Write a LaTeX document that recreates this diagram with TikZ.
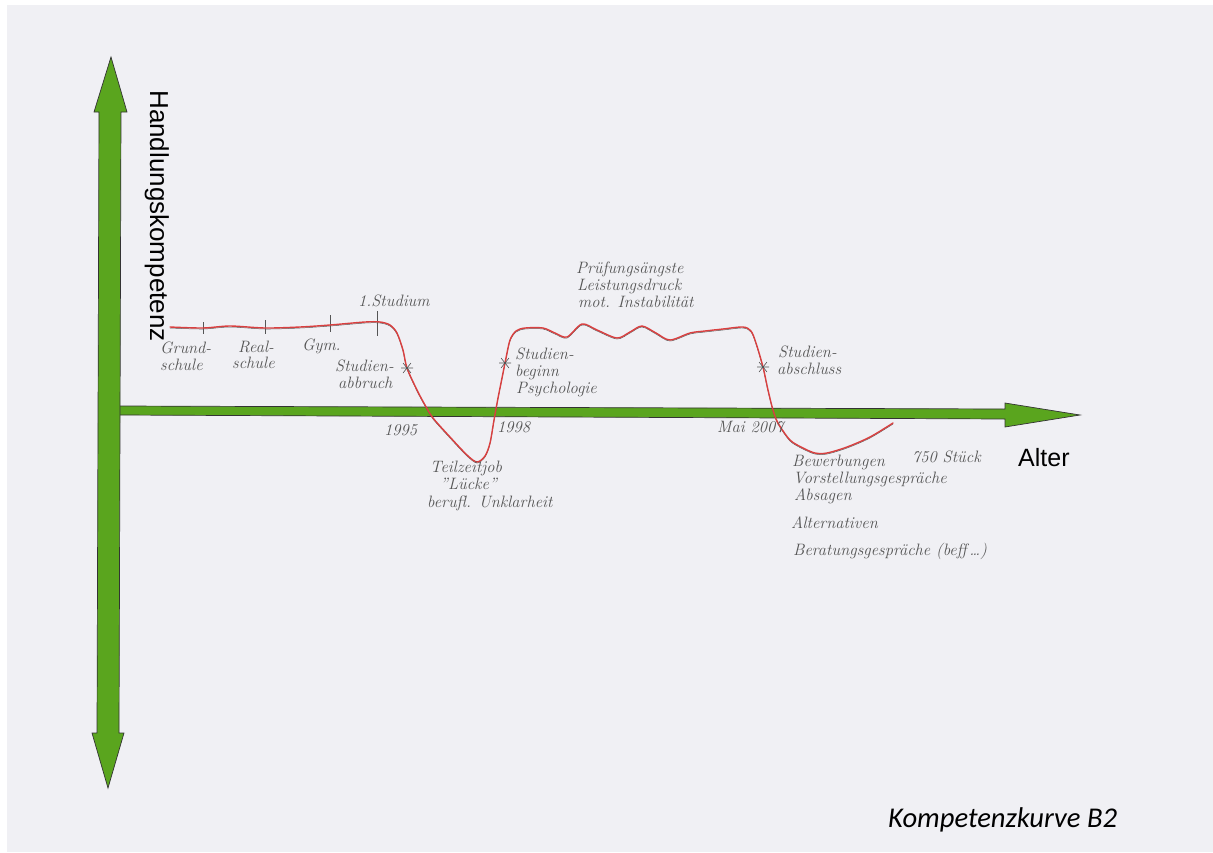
\documentclass[tikz,border=0pt]{standalone}
\usepackage{fontspec}
\setsansfont{Liberation Sans}
\newfontfamily\capfont{Carlito}
\definecolor{paper}{HTML}{F0F0F4}
\definecolor{axisgreen}{HTML}{5AA51E}
\definecolor{curvered}{HTML}{D94040}
\definecolor{pencil}{HTML}{555555}
\begin{document}
\begin{tikzpicture}[x=1pt,y=-1pt,
  axis/.style={fill=axisgreen,draw=black!80,line width=0.7pt,line join=miter},
  hand/.style={anchor=base west,inner sep=0pt,text=pencil,font=\fontsize{16.5}{18}\selectfont\itshape},
  penline/.style={draw=pencil,line width=0.6pt},
  curve/.style={draw=curvered,line width=1.4pt,line cap=round,line join=round}]
\useasboundingbox (0,0) rectangle (1213,852);
\fill[white] (0,0) rectangle (1213,852);
\fill[paper] (7,5) rectangle (1213,852);
% horizontal axis
\path[axis] (119,406) -- (1005,409) -- (1005,403) -- (1080,415) -- (1005,427) -- (1005,419) -- (119,415) -- cycle;
% vertical axis
\path[axis] (111,57) -- (127,112) -- (121,112) -- (119,733) -- (124,733) -- (108,788) -- (92,733) -- (97,733) -- (99,112) -- (94,112) -- cycle;
% axis labels
\node[anchor=base,inner sep=0pt,rotate=-90,font=\sffamily\fontsize{26}{30}\selectfont] (ylab) at (150,216) {Handlungskompetenz};
\node[anchor=base west,inner sep=0pt,font=\sffamily\fontsize{25}{30}\selectfont] (xlab) at (1018,466) {Alter};
\node[anchor=base west,inner sep=0pt,font=\capfont\itshape\fontsize{28.6}{32}\selectfont] (title) at (888,827) {Kompetenzkurve B2};
% tick marks
\draw[penline] (203,322) -- (203,334);
\draw[penline] (265,320) -- (265,334);
\draw[penline] (330,315) -- (330,332);
\draw[penline] (377,311) -- (377,336);
% pencil underline of curve
\draw[draw=pencil,line width=0.5pt] plot[smooth,tension=0.5] coordinates {
(170,328) (203,329) (230,327) (265,329) (300,328) (330,326) (365,323) (380,323) (390,326) (397,334) (403,351) (407,369) (417,391) (425,406) (433,419) (450,438) (467,456) (477,463) (485,457) (490,444) (494,421) (498,399) (502,379) (506,359) (510,341) (516,332) (525,329) (543,329) (555,334) (567,338) (582,325) (597,331) (617,339) (630,333) (642,327) (656,334) (670,341) (690,334) (705,332) (723,330) (743,328) (751,332) (756,344) (763,368) (768,391) (773,411) (778,424) (790,441) (803,449) (815,454) (827,454) (847,448) (870,438) (893,424)};
% red curve
\draw[curve] plot[smooth,tension=0.5] coordinates {
(170,327) (203,328) (230,326) (265,328) (300,327) (330,325) (365,322) (380,322) (390,325) (397,333) (403,350) (407,368) (417,390) (425,405) (433,418) (450,437) (467,455) (477,462) (485,456) (490,443) (494,420) (498,398) (502,378) (506,358) (510,340) (516,331) (525,328) (543,328) (555,333) (567,337) (582,324) (597,330) (617,338) (630,332) (642,326) (656,333) (670,340) (690,333) (705,331) (723,329) (743,327) (751,331) (756,343) (763,367) (768,390) (773,410) (778,423) (790,440) (803,448) (815,453) (827,453) (847,447) (870,437) (893,423)};
% asterisks
\foreach \px/\py in {407/368, 505/363, 763/367}{
  \draw[penline] (\px-6,\py) -- (\px+6,\py) (\px-4,\py-5) -- (\px+4,\py+5) (\px-4,\py+5) -- (\px+4,\py-5);
}
% handwritten labels
\node[hand] (gs1) at (160,353) {Grund-};
\node[hand] (gs2) at (160,370) {schule};
\node[hand] (rs1) at (238,352) {Real-};
\node[hand] (rs2) at (232,368) {schule};
\node[hand] (gym) at (302,350) {Gym.};
\node[hand] (stu) at (358,306) {1.Studium};
\node[hand] (sa1) at (335,371) {Studien-};
\node[hand] (sa2) at (338,388) {abbruch};
\node[hand] (y95) at (384,435) {1995};
\node[hand] (y98) at (497,432) {1998};
\node[hand] (tz1) at (430,472) {Teilzeitjob};
\node[hand] (tz2) at (440,489) {"Lücke"};
\node[hand] (tz3) at (427,507) {berufl. Unklarheit};
\node[hand] (pr1) at (576,273) {Prüfungsängste};
\node[hand] (pr2) at (577,290) {Leistungsdruck};
\node[hand] (pr3) at (578,307) {mot. Instabilität};
\node[hand] (sb1) at (515,359) {Studien-};
\node[hand] (sb2) at (515,376) {beginn};
\node[hand] (sb3) at (516,393) {Psychologie};
\node[hand] (ab1) at (778,357) {Studien-};
\node[hand] (ab2) at (777,374) {abschluss};
\node[hand] (mai) at (717,432) {Mai 2007};
\node[hand] (bw1) at (792,466) {Bewerbungen};
\node[hand] (bw2) at (912,462) {750 Stück};
\node[hand] (bw3) at (793,483) {Vorstellungsgespräche};
\node[hand] (bw4) at (794,500) {Absagen};
\node[hand] (bw5) at (791,528) {Alternativen};
\node[hand] (bw6) at (793,555) {Beratungsgespräche (beff\,\dots)};
\end{tikzpicture}
\end{document}
